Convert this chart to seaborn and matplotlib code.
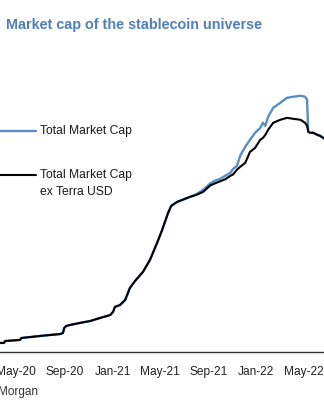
import matplotlib
matplotlib.use("Agg")
import matplotlib.pyplot as plt
import matplotlib.dates as mdates
from matplotlib.lines import Line2D
import pandas as pd
import seaborn as sns

# Stablecoin market capitalisation, USD bn
dates = [
    "2020-03-01", "2020-03-21", "2020-03-31", "2020-04-03", "2020-05-11",
    "2020-05-14", "2020-07-01", "2020-07-26", "2020-08-21", "2020-08-28",
    "2020-08-31", "2020-09-05", "2020-09-15", "2020-10-10", "2020-11-05",
    "2020-11-30", "2020-12-26", "2021-01-02", "2021-01-07", "2021-01-20",
    "2021-02-02", "2021-02-14", "2021-02-27", "2021-03-19", "2021-04-06",
    "2021-04-24", "2021-05-07", "2021-05-14", "2021-05-22", "2021-05-30",
    "2021-06-14", "2021-07-17", "2021-08-01", "2021-08-19", "2021-09-06",
    "2021-09-18", "2021-10-01", "2021-10-14", "2021-10-27", "2021-11-03",
    "2021-11-13", "2021-11-21", "2021-12-04", "2021-12-16", "2021-12-29",
    "2022-01-11", "2022-01-18", "2022-01-24", "2022-01-31", "2022-02-13",
    "2022-03-03", "2022-03-20", "2022-04-05", "2022-04-23", "2022-05-05",
    "2022-05-10", "2022-05-13", "2022-05-18", "2022-05-26", "2022-06-05",
    "2022-06-12", "2022-06-20", "2022-06-28",
]
total_cap = [
    6.0, 6.6, 6.6, 8.0, 8.8,
    10.2, 11.7, 12.4, 13.1, 13.9,
    17.5, 19.0, 19.7, 21.2, 22.6,
    24.8, 27.0, 29.2, 32.9, 34.3,
    38.0, 46.7, 51.8, 58.4, 67.2,
    79.6, 89.1, 94.9, 101.5, 106.6,
    109.5, 113.2, 115.0, 118.3, 123.0,
    125.0, 126.3, 128.5, 130.7, 133.5,
    135.8, 143.1, 149.7, 154.8, 159.9,
    163.5, 167.2, 165.0, 171.6, 178.1,
    181.8, 185.4, 186.2, 186.9, 186.2,
    184.0, 160.6, 159.9, 159.9, 158.4,
    157.7, 156.2, 154.8,
]
ex_terra_cap = [
    6.0, 6.6, 6.6, 8.0, 8.8,
    10.2, 11.7, 12.4, 13.1, 13.9,
    17.5, 19.0, 19.7, 21.2, 22.6,
    24.8, 27.0, 29.2, 32.9, 34.3,
    38.0, 46.7, 51.8, 58.4, 67.2,
    79.6, 89.1, 94.9, 101.5, 106.6,
    109.5, 113.2, 114.5, 116.8, 121.5,
    123.0, 124.5, 126.0, 128.5, 129.5,
    133.0, 135.1, 138.0, 146.0, 148.9,
    154.8, 156.2, 158.4, 162.1, 167.2,
    169.4, 170.8, 170.1, 169.4, 167.2,
    165.0, 160.6, 159.9, 159.9, 158.4,
    157.7, 156.2, 154.8,
]
series_labels = ["Total Market Cap", "Total Market Cap\nex Terra USD"]
title_text = "Market cap of the stablecoin universe"
source_text = "Morgan"

df = pd.DataFrame({
    "date": pd.to_datetime(dates),
    "total": total_cap,
    "ex_terra": ex_terra_cap,
})

sns.set_style("white")
plt.rcParams["font.family"] = ["Liberation Sans", "DejaVu Sans"]

BLUE = "#5a8ec6"
TITLE_BLUE = "#4f80b8"
W, H = 324, 400

fig = plt.figure(figsize=(3.24, 4.0), dpi=100)
ax = fig.add_axes([0.0, 0.12, 1.0, 0.73])

sns.lineplot(data=df, x="date", y="total", ax=ax, color=BLUE, linewidth=1.7)
sns.lineplot(data=df, x="date", y="ex_terra", ax=ax, color="black", linewidth=1.5)

ax.set_xlim(pd.Timestamp("2020-03-21"), pd.Timestamp("2022-06-22"))
ax.set_ylim(0, 213)
ax.set_xlabel("")
ax.set_ylabel("")
ax.set_yticks([])
ax.xaxis.set_major_locator(mdates.MonthLocator(bymonth=[1, 5, 9]))
ax.xaxis.set_major_formatter(mdates.DateFormatter("%b-%y"))
ax.tick_params(axis="x", direction="out", length=4, width=1, color="#333333",
               labelsize=8.6, labelcolor="#222222", pad=6)
for side in ["left", "right", "top"]:
    ax.spines[side].set_visible(False)
ax.spines["bottom"].set_color("#333333")
ax.spines["bottom"].set_linewidth(1.0)
ax.patch.set_alpha(0)

# Legend drawn beside the curves
fig.add_artist(Line2D([-0.02, 36 / W], [1 - 131 / H] * 2, color=BLUE, linewidth=1.7))
fig.add_artist(Line2D([-0.02, 36 / W], [1 - 175 / H] * 2, color="black", linewidth=1.5))
fig.text(40 / W, 1 - 131 / H, series_labels[0], fontsize=8.7, color="#1a1a1a",
         va="center", ha="left")
fig.text(40 / W, 1 - 183.5 / H, series_labels[1], fontsize=8.7, color="#1a1a1a",
         va="center", ha="left", linespacing=1.45)

fig.text(6 / W, 1 - 25 / H, title_text, fontsize=10.4, fontweight="bold",
         color=TITLE_BLUE, va="center", ha="left")
fig.text(-2 / W, 1 - 392 / H, source_text, fontsize=8.5, color="#333333",
         va="center", ha="left")

fig.savefig("out.png", dpi=100)
